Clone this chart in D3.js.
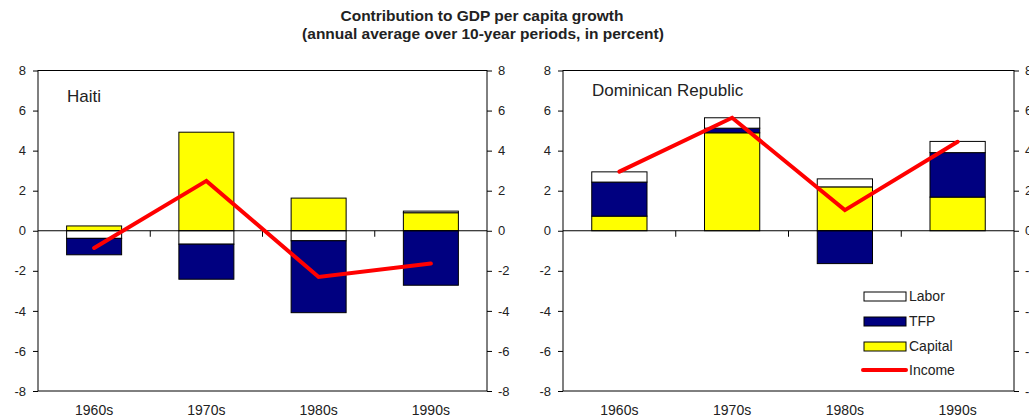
<!DOCTYPE html>
<html>
<head>
<meta charset="utf-8">
<title>Contribution to GDP per capita growth</title>
<script src="https://d3js.org/d3.v7.min.js"></script>
<style>
    body { margin: 0; background: #fff; }
    svg text { font-family: "Liberation Sans", Arial, sans-serif; fill: #222; }
    .axis path { display: none; }
    .axis line { stroke: #000; }
</style>
</head>
<body>
<div id="chart"></div>
<script>
    // values (percent, annual average)
    var decades = ["1960s", "1970s", "1980s", "1990s"];
    var yTicks = [-8, -6, -4, -2, 0, 2, 4, 6, 8];

    var haitiCapital = [0.24, 4.92, 1.63, 0.9];
    var haitiTFP = [-0.82, -1.75, -3.59, -2.72];
    var haitiLabor = [-0.38, -0.67, -0.5, 0.08];
    var haitiIncome = [-0.86, 2.49, -2.31, -1.64];

    var drCapital = [0.73, 4.89, 2.19, 1.68];
    var drTFP = [1.7, 0.23, -1.64, 2.22];
    var drLabor = [0.51, 0.52, 0.4, 0.56];
    var drIncome = [2.95, 5.64, 1.03, 4.44];

    var colors = { Labor: "#ffffff", TFP: "#000080", Capital: "#ffff00", Income: "#ff0000" };

    var width = 1029, height = 417;
    var plotTop = 70.5, plotBottom = 391;

    var svg = d3.select("#chart").append("svg")
        .attr("width", width)
        .attr("height", height);

    svg.append("text")
        .attr("x", 482).attr("y", 21)
        .attr("text-anchor", "middle")
        .attr("font-size", 15.5).attr("font-weight", "bold")
        .text("Contribution to GDP per capita growth");
    svg.append("text")
        .attr("x", 483).attr("y", 39)
        .attr("text-anchor", "middle")
        .attr("font-size", 15.5).attr("font-weight", "bold")
        .text("(annual average over 10-year periods, in percent)");

    var yScale = d3.scaleLinear().domain([-8, 8]).range([plotBottom, plotTop]);

    var panels = [
        { name: "Haiti", left: 38, right: 487, nameY: 102, capital: haitiCapital, tfp: haitiTFP, labor: haitiLabor, income: haitiIncome, legend: false },
        { name: "Dominican Republic", left: 563, right: 1014, nameY: 96, capital: drCapital, tfp: drTFP, labor: drLabor, income: drIncome, legend: true }
    ];

    panels.forEach(function (p) {
        var w = p.right - p.left;
        var g = svg.append("g").attr("transform", "translate(" + p.left + ",0)");

        var xScale = d3.scaleBand().domain(decades).range([0, w])
            .paddingInner(0.51).paddingOuter(0.255);
        var step = xScale.step();

        // stack: positives capital -> TFP -> labor, negatives labor -> TFP -> capital
        var segs = [];
        decades.forEach(function (d, i) {
            var pos = 0, neg = 0;
            [["Capital", p.capital[i]], ["TFP", p.tfp[i]], ["Labor", p.labor[i]]].forEach(function (s) {
                if (s[1] > 0) { segs.push({ dec: d, key: s[0], y0: pos, y1: pos + s[1] }); pos += s[1]; }
            });
            [["Labor", p.labor[i]], ["TFP", p.tfp[i]], ["Capital", p.capital[i]]].forEach(function (s) {
                if (s[1] < 0) { segs.push({ dec: d, key: s[0], y0: neg + s[1], y1: neg }); neg += s[1]; }
            });
        });

        g.selectAll("rect.seg")
            .data(segs)
            .enter().append("rect")
            .attr("class", "seg")
            .attr("x", function (d) { return xScale(d.dec); })
            .attr("width", xScale.bandwidth())
            .attr("y", function (d) { return yScale(d.y1); })
            .attr("height", function (d) { return yScale(d.y0) - yScale(d.y1); })
            .attr("fill", function (d) { return colors[d.key]; })
            .attr("stroke", "#000")
            .attr("stroke-width", 1);

        // zero line with category ticks
        g.append("line")
            .attr("x1", 0).attr("x2", w)
            .attr("y1", yScale(0)).attr("y2", yScale(0))
            .attr("stroke", "#000");
        g.selectAll("line.ctick")
            .data(decades.slice(1))
            .enter().append("line")
            .attr("class", "ctick")
            .attr("x1", function (d) { return xScale(d) - step * 0.255; })
            .attr("x2", function (d) { return xScale(d) - step * 0.255; })
            .attr("y1", yScale(0)).attr("y2", yScale(0) + 6)
            .attr("stroke", "#000");

        var line = d3.line()
            .x(function (d, i) { return xScale(decades[i]) + xScale.bandwidth() / 2; })
            .y(function (d) { return yScale(d); });

        g.append("path")
            .datum(p.income)
            .attr("d", line)
            .attr("fill", "none")
            .attr("stroke", colors.Income)
            .attr("stroke-width", 4)
            .attr("stroke-linecap", "round");

        // frame
        g.append("rect")
            .attr("x", 0).attr("y", plotTop)
            .attr("width", w).attr("height", plotBottom - plotTop)
            .attr("fill", "none").attr("stroke", "#000");

        var fmt = function (d) { return String(d); };
        var leftAxis = d3.axisLeft(yScale).tickValues(yTicks).tickFormat(fmt)
            .tickSize(5).tickSizeOuter(0).tickPadding(7);
        var rightAxis = d3.axisRight(yScale).tickValues(yTicks).tickFormat(fmt)
            .tickSize(5).tickSizeOuter(0).tickPadding(6);

        g.append("g").attr("class", "axis").call(leftAxis)
            .selectAll("text").attr("font-size", 13).attr("font-family", null);
        g.append("g").attr("class", "axis")
            .attr("transform", "translate(" + w + ",0)")
            .call(rightAxis)
            .selectAll("text").attr("font-size", 13).attr("font-family", null);

        g.selectAll("text.xlab")
            .data(decades)
            .enter().append("text")
            .attr("class", "xlab")
            .attr("x", function (d) { return xScale(d) + xScale.bandwidth() / 2; })
            .attr("y", 415)
            .attr("text-anchor", "middle")
            .attr("font-size", 14)
            .text(function (d) { return d; });

        g.append("text")
            .attr("x", 29).attr("y", p.nameY)
            .attr("font-size", 17)
            .text(p.name);

        if (p.legend) {
            var items = ["Labor", "TFP", "Capital", "Income"];
            var lg = g.append("g").attr("transform", "translate(301,292)");
            items.forEach(function (k, i) {
                var row = lg.append("g").attr("transform", "translate(0," + (i * 25) + ")");
                if (k === "Income") {
                    row.append("line")
                        .attr("x1", -1).attr("x2", 42)
                        .attr("y1", 3).attr("y2", 3)
                        .attr("stroke", colors.Income)
                        .attr("stroke-width", 4)
                        .attr("stroke-linecap", "round");
                } else {
                    row.append("rect")
                        .attr("width", 42).attr("height", 9)
                        .attr("fill", colors[k])
                        .attr("stroke", "#000");
                }
                row.append("text")
                    .attr("x", 45).attr("y", i === 3 ? 3 : 4.5)
                    .attr("dy", "0.35em")
                    .attr("font-size", 14)
                    .text(k);
            });
        }
    });
</script>
</body>
</html>
